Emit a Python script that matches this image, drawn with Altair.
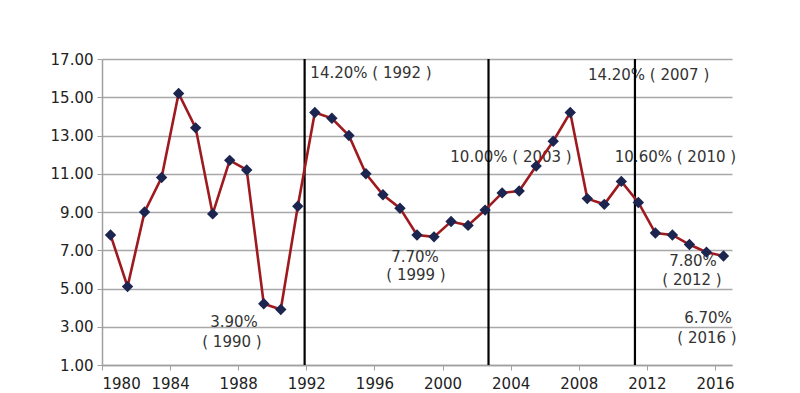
import altair as alt
import pandas as pd

# ---- data ----
years = list(range(1980, 2017))
growth = [7.8, 5.1, 9.0, 10.8, 15.2, 13.4, 8.9, 11.7, 11.2, 4.2, 3.9, 9.3,
          14.2, 13.9, 13.0, 11.0, 9.9, 9.2, 7.8, 7.7, 8.5, 8.3, 9.1, 10.0,
          10.1, 11.4, 12.7, 14.2, 9.7, 9.4, 10.6, 9.5, 7.9, 7.8, 7.3, 6.9, 6.7]

divider_years = [1991.9, 2002.7, 2011.3]

ann_text = ["14.20% ( 1992 )", "14.20% ( 2007 )", "10.00% ( 2003 )", "10.60% ( 2010 )",
            "7.70%", "( 1999 )", "3.90%", "( 1990 )",
            "7.80%", "( 2012 )", "6.70%", "( 2016 )"]
ann_x = [1995.80, 2012.10, 2004.02, 2013.68,
         1998.38, 1998.44, 1987.75, 1987.63,
         2014.71, 2014.65, 2015.59, 2015.53]
ann_y = [16.27, 16.16, 11.88, 11.88,
         6.65, 5.71, 3.25, 2.20,
         6.44, 5.44, 3.46, 2.41]

x_ticks = list(range(1980, 2017, 4))
y_ticks = list(range(1, 18, 2))

# ---- tables ----
df = pd.DataFrame({"year": years, "growth": growth})
df_div = pd.DataFrame({"x": divider_years})
df_ann = pd.DataFrame({"text": ann_text, "x": ann_x, "y": ann_y})

FONT = "DejaVu Sans"

xscale = alt.Scale(domain=[1980, 2017], nice=False, zero=False)
yscale = alt.Scale(domain=[1, 17], nice=False, zero=False)

xaxis = alt.Axis(values=x_ticks, format="d", title=None, grid=False,
                 domainColor="#A0A0A0", domainWidth=1.5, tickColor="#A0A0A0",
                 tickSize=5, labelPadding=6, labelFont=FONT, labelFontSize=15,
                 labelColor="#222222", labelOverlap=False)
yaxis = alt.Axis(values=y_ticks, format=".2f", title=None, grid=True,
                 gridColor="#A8A8A8", gridWidth=1.5, domainColor="#A0A0A0",
                 domainWidth=1.5, tickColor="#A0A0A0", tickSize=5, labelPadding=4,
                 labelFont=FONT, labelFontSize=15, labelColor="#222222",
                 labelOverlap=False)

base = alt.Chart(df).transform_calculate(xpos="datum.year + 0.5")

text = alt.Chart(df_ann).mark_text(
    font=FONT, fontSize=15, color="#333333", align="center", baseline="middle"
).encode(
    x=alt.X("x:Q", scale=xscale, axis=xaxis),
    y=alt.Y("y:Q", scale=yscale, axis=yaxis),
    text="text:N",
)

rules = alt.Chart(df_div).mark_rule(color="#000000", strokeWidth=2.2).encode(
    x=alt.X("x:Q", scale=xscale, axis=xaxis),
    y=alt.datum(1, scale=yscale, axis=yaxis),
    y2=alt.datum(17),
)

line = base.mark_line(color="#9E1A1F", strokeWidth=2.6).encode(
    x=alt.X("xpos:Q", scale=xscale, axis=xaxis),
    y=alt.Y("growth:Q", scale=yscale, axis=yaxis),
)

points = base.mark_point(shape="diamond", filled=True, size=130,
                         color="#1B2550", opacity=1).encode(
    x=alt.X("xpos:Q", scale=xscale, axis=xaxis),
    y=alt.Y("growth:Q", scale=yscale, axis=yaxis),
)

chart = alt.layer(text, rules, line, points).properties(
    width=630, height=306,
    autosize="none",
    padding={"left": 94, "top": 51, "right": 60, "bottom": 28},
    background="white",
).configure_view(stroke=None)

chart.save("out.html", embed_options={"renderer": "svg", "actions": False})
